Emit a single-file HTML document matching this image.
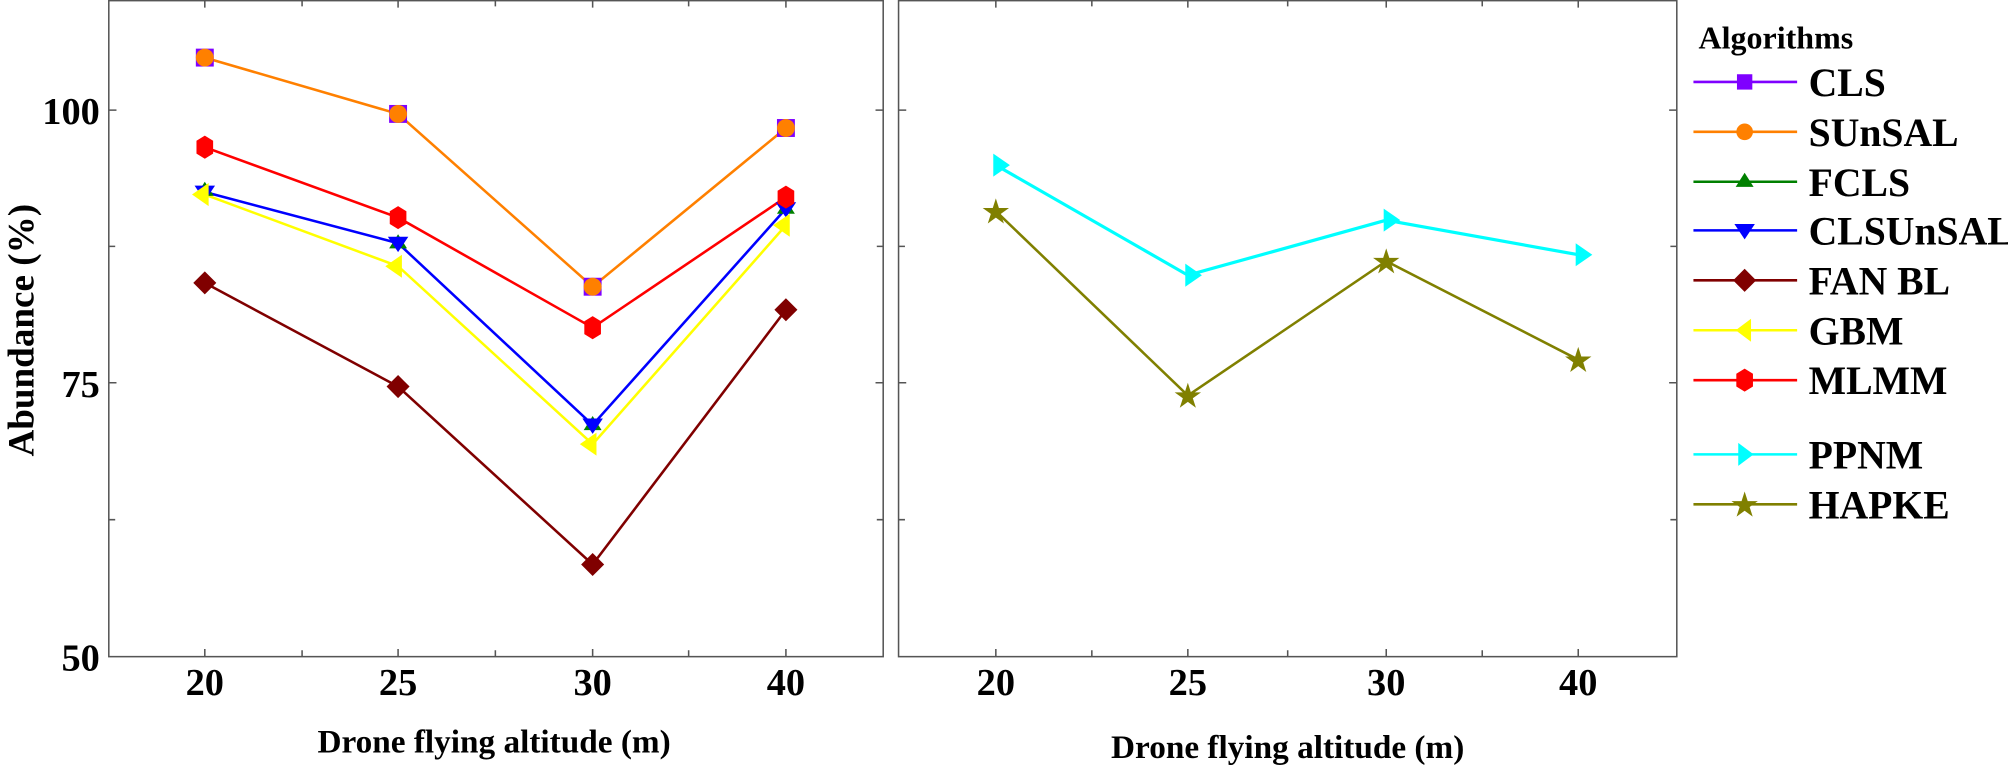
<!DOCTYPE html>
<html><head><meta charset="utf-8"><style>
html,body{margin:0;padding:0;background:#fff;}
svg{display:block;}
text{font-family:"Liberation Serif","Times New Roman",serif;font-weight:bold;fill:#000;}
</style></head><body>
<svg width="2008" height="770" viewBox="0 0 1568.75 601.56" xmlns="http://www.w3.org/2000/svg" font-family="Liberation Serif, serif" font-weight="bold">
<rect x="85" y="0.5" width="605" height="512.5" fill="none" stroke="#555" stroke-width="1.2"/>
<rect x="702" y="0.5" width="608" height="512.5" fill="none" stroke="#555" stroke-width="1.2"/>
<g stroke="#555" stroke-width="1.2">
<path d="M160,0v6M236,0v5M311,0v6M387,0v5M463,0v6M538,0v5M614,0v6
M160,513v-6M236,513v-5M311,513v-6M387,513v-5M463,513v-6M538,513v-5M614,513v-6"/>
<path d="M778,0v6M853,0v5M928,0v6M1006,0v5M1083,0v6M1158,0v5M1233,0v6
M778,513v-6M853,513v-5M928,513v-6M1006,513v-5M1083,513v-6M1158,513v-5M1233,513v-6"/>
<path d="M85,86h6M85,192.5h5M85,299h6M85,406h5M690,86h-6M690,192.5h-5M690,299h-6M690,406h-5"/>
<path d="M702,86h6M702,192.5h5M702,299h6M702,406h5M1310,86h-6M1310,192.5h-5M1310,299h-6M1310,406h-5"/>
</g>
<g font-size="30" text-anchor="end">
<text x="78" y="97">100</text><text x="78" y="310">75</text><text x="78" y="524">50</text>
</g>
<g font-size="30" text-anchor="middle">
<text x="160" y="543">20</text><text x="311" y="543">25</text><text x="463" y="543">30</text><text x="614" y="543">40</text>
<text x="778" y="543">20</text><text x="928" y="543">25</text><text x="1083" y="543">30</text><text x="1233" y="543">40</text>
</g>
<text x="386" y="588" font-size="26" text-anchor="middle">Drone flying altitude (m)</text>
<text x="1006" y="592" font-size="26" text-anchor="middle">Drone flying altitude (m)</text>
<text transform="translate(26,258) rotate(-90)" font-size="29" text-anchor="middle">Abundance (%)</text>

<g fill="none" stroke-width="2">
<polyline points="160,221 311,302 463,441 614,242" stroke="#800000"/>
<polyline points="160,152 311,208 463,347 614,176" stroke="#ffff00"/>
<polyline points="160,150 311,190 463,332 614,163" stroke="#0000ff"/>
<polyline points="160,115 311,170 463,256 614,154" stroke="#ff0000"/>
<polyline points="160,45 311,89 463,224 614,100" stroke="#ff8000"/>
<polyline points="778,129 928,215 1083,172 1233,199" stroke="#00ffff" stroke-width="2.5"/>
<polyline points="778,165 928,309 1083,204 1233,281" stroke="#808000"/>
</g>
<g fill="#800000"><path d="M160,212l9,9l-9,9l-9,-9z"/><path d="M311,293l9,9l-9,9l-9,-9z"/><path d="M463,432l9,9l-9,9l-9,-9z"/><path d="M614,233l9,9l-9,9l-9,-9z"/></g>
<g fill="#008000"><path d="M160,142l7,11h-14z"/><path d="M311,183l7,11h-14z"/><path d="M463,325l7,11h-14z"/><path d="M614,156l7,11h-14z"/></g>
<g fill="#0000ff"><path d="M152,145h16l-8,12z"/><path d="M303,185h16l-8,12z"/><path d="M455,327h16l-8,12z"/><path d="M606,158h16l-8,12z"/></g>
<g fill="#ffff00"><path d="M150,152l13,-9v18z"/><path d="M301,208l13,-9v18z"/><path d="M453,347l13,-9v18z"/><path d="M604,176l13,-9v18z"/></g>
<g fill="#ff0000">
<path id="hx" d="M160,106l6.5,4v10l-6.5,4l-6.5,-4v-10z"/>
<use href="#hx" transform="translate(151,55)"/><use href="#hx" transform="translate(303,141)"/><use href="#hx" transform="translate(454,39)"/>
</g>
<g fill="#7f00ff"><rect x="153" y="38" width="14" height="14"/><rect x="304" y="82" width="14" height="14"/><rect x="456" y="217" width="14" height="14"/><rect x="607" y="93" width="14" height="14"/></g>
<g fill="#ff8000"><circle cx="160" cy="45" r="7"/><circle cx="311" cy="89" r="7"/><circle cx="463" cy="224" r="7"/><circle cx="614" cy="100" r="7"/></g>
<g fill="#00ffff"><path d="M789,129l-13,-9v18z"/><path d="M939,215l-13,-9v18z"/><path d="M1094,172l-13,-9v18z"/><path d="M1244,199l-13,-9v18z"/></g>
<g fill="#808000">
<path id="st" d="M778,155l2.4,7.5h7.9l-6.4,4.6l2.4,7.5l-6.3,-4.6l-6.3,4.6l2.4,-7.5l-6.4,-4.6h7.9z"/>
<use href="#st" transform="translate(150,144)"/><use href="#st" transform="translate(305,39)"/><use href="#st" transform="translate(455,116)"/>
</g>

<text x="1327" y="38" font-size="25">Algorithms</text>
<g stroke-width="2">
<line x1="1323" y1="64" x2="1404" y2="64" stroke="#7f00ff"/>
<line x1="1323" y1="103" x2="1404" y2="103" stroke="#ff8000"/>
<line x1="1323" y1="142" x2="1404" y2="142" stroke="#008000"/>
<line x1="1323" y1="180" x2="1404" y2="180" stroke="#0000ff"/>
<line x1="1323" y1="219" x2="1404" y2="219" stroke="#800000"/>
<line x1="1323" y1="258" x2="1404" y2="258" stroke="#ffff00"/>
<line x1="1323" y1="297" x2="1404" y2="297" stroke="#ff0000"/>
<line x1="1323" y1="355" x2="1404" y2="355" stroke="#00ffff"/>
<line x1="1323" y1="394" x2="1404" y2="394" stroke="#808000"/>
</g>
<rect x="1357" y="58" width="12" height="12" fill="#7f00ff"/>
<circle cx="1363" cy="103" r="6.5" fill="#ff8000"/>
<path d="M1363,135l7,11h-14z" fill="#008000"/>
<path d="M1355,175h16l-8,12z" fill="#0000ff"/>
<path d="M1363,210l9,9l-9,9l-9,-9z" fill="#800000"/>
<path d="M1356,258l12,-9v18z" fill="#ffff00"/>
<use href="#hx" transform="translate(1203,182)" fill="#ff0000"/>
<path d="M1370,355l-12,-9v18z" fill="#00ffff"/>
<use href="#st" transform="translate(585,229)" fill="#808000"/>
<g font-size="31">
<text x="1413" y="75">CLS</text>
<text x="1413" y="114">SUnSAL</text>
<text x="1413" y="153">FCLS</text>
<text x="1413" y="191">CLSUnSAL</text>
<text x="1413" y="230">FAN BL</text>
<text x="1413" y="269">GBM</text>
<text x="1413" y="308">MLMM</text>
<text x="1413" y="366">PPNM</text>
<text x="1413" y="405">HAPKE</text>
</g>
</svg>
</body></html>
